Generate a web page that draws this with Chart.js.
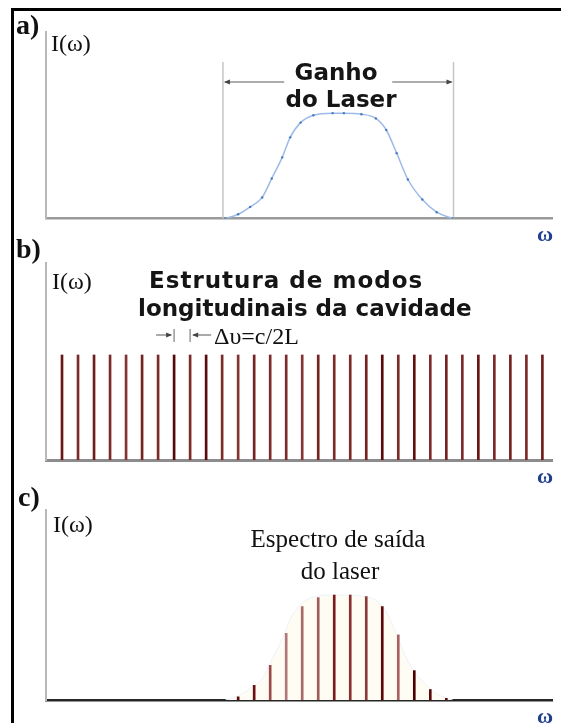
<!DOCTYPE html>
<html>
<head>
<meta charset="utf-8">
<script src="https://cdn.jsdelivr.net/npm/chart.js@4.4.1/dist/chart.umd.min.js"></script>
<style>
  body { margin: 0; background: #fff; }
  #page { position: relative; width: 561px; height: 723px; overflow: hidden; background: #fff; }
  #frame { position: absolute; left: 11px; top: 8px; right: 0; bottom: 0;
           border-left: 3px solid #000; border-top: 3px solid #000; }
  canvas { position: absolute; left: 0; }
  .t { position: absolute; white-space: nowrap; line-height: 1; z-index: 2; color: #111; }
  .tag { font: bold 28px "Liberation Serif", serif; }
  .ax { font: 24px "Liberation Serif", serif; }
  .w { font: bold 22px "Liberation Serif", serif; color: #1f3f8f; transform: translateX(-50%); }
  .sans { font: bold 23px "DejaVu Sans", sans-serif; color: #151515; }
  .serif { font: 25px "Liberation Serif", serif; }
  .mid { transform: translateX(-50%); }
</style>
</head>
<body>
<div id="page">
  <div id="frame"></div>
  <canvas id="gainChart" width="561" height="240" style="top:0"></canvas>
  <canvas id="modeChart" width="561" height="240" style="top:240px"></canvas>
  <canvas id="outChart" width="561" height="243" style="top:480px"></canvas>

  <div class="t tag" style="left:16px;top:9px">a)</div>
  <div class="t ax" style="left:51px;top:30px">I(ω)</div>
  <div class="t sans mid" style="left:336px;top:59px">Ganho</div>
  <div class="t sans mid" style="left:341px;top:86px">do Laser</div>
  <div class="t w" style="left:545px;top:221px">ω</div>

  <div class="t tag" style="left:16px;top:233px">b)</div>
  <div class="t ax" style="left:52px;top:268px">I(ω)</div>
  <div class="t sans" style="left:149px;top:267px;letter-spacing:1px">Estrutura de modos</div>
  <div class="t sans" style="left:138px;top:295px">longitudinais da cavidade</div>
  <div class="t serif" style="left:214px;top:323px;font-size:24px">Δυ=c/2L</div>
  <div class="t w" style="left:545px;top:463px">ω</div>

  <div class="t tag" style="left:18px;top:481px">c)</div>
  <div class="t ax" style="left:53px;top:511px">I(ω)</div>
  <div class="t serif mid" style="left:338px;top:525px">Espectro de saída</div>
  <div class="t serif mid" style="left:340px;top:557px">do laser</div>
  <div class="t w" style="left:545px;top:703px">ω</div>
</div>

<script>
// ω axis is measured in cavity-mode numbers, intensity in units of the gain peak

// gain profile of the active medium
const gainW = [10.2, 11.0, 11.75, 12.5, 13.1, 13.75, 14.25, 14.9, 15.7, 16.9, 17.6, 18.7, 19.6, 20.25, 20.9, 21.6, 22.5, 23.4, 24.4];
const gainI = [0, 0.04, 0.11, 0.2, 0.38, 0.58, 0.77, 0.91, 0.98, 1.0, 1.0, 0.99, 0.95, 0.84, 0.62, 0.37, 0.18, 0.06, 0];
const gainEdges = [10.05, 24.45];

// longitudinal modes of the cavity
const modeN = [0, 1, 2, 3, 4, 5, 6, 7, 8, 9, 10, 11, 12, 13, 14, 15, 16, 17, 18, 19, 20, 21, 22, 23, 24, 25, 26, 27, 28, 29, 30];
const modeI = [1, 1, 1, 1, 1, 1, 1, 1, 1, 1, 1, 1, 1, 1, 1, 1, 1, 1, 1, 1, 1, 1, 1, 1, 1, 1, 1, 1, 1, 1, 1];
const modeColors = ['#6a1616', '#7c2a2a', '#6f1c1c', '#7c2a2a', '#843232', '#742222', '#7c2a2a', '#560808',
  '#7c2a2a', '#5a0a0a', '#7c2a2a', '#843232', '#742222', '#7c2a2a', '#7c2a2a', '#843232', '#742222',
  '#7c2a2a', '#7c2a2a', '#742222', '#5a0a0a', '#7c2a2a', '#600e0e', '#7c2a2a', '#742222', '#7c2a2a',
  '#6a1616', '#7c2a2a', '#742222', '#7c2a2a', '#6f1c1c'];
const spacingMarks = [7, 8];

// modes that survive inside the gain window
const outN = [11, 12, 13, 14, 15, 16, 17, 18, 19, 20, 21, 22, 23, 24];
const outI = [0.03, 0.14, 0.33, 0.635, 0.89, 0.975, 1.0, 1.0, 0.985, 0.89, 0.62, 0.28, 0.10, 0.016];
const outColors = ['#5a0a0a', '#6b1010', '#9a4a4a', '#b07878', '#a86868', '#a05a5a', '#7a1a1a',
  '#8a3030', '#8b3a3a', '#5a0808', '#a86060', '#4a0000', '#5a0a0a', '#5a0a0a'];

const W_MIN = -1, W_MAX = 30.6;

function pts(xs, ys) {
  return xs.map((x, i) => ({ x: x, y: ys[i] }));
}

function axes(yMax, baseColor, baseWidth) {
  return {
    x: {
      type: 'linear', min: W_MIN, max: W_MAX,
      offset: false,
      grid: { display: false, drawTicks: false, offset: false },
      ticks: { display: false },
      border: { display: true, color: baseColor, width: baseWidth }
    },
    y: {
      min: 0, max: yMax,
      grid: { display: false, drawTicks: false },
      ticks: { display: false },
      border: { display: true, color: '#b8b8b8', width: 2 }
    }
  };
}

function baseOptions(yMax, pad, baseColor, baseWidth) {
  return {
    responsive: false,
    animation: false,
    events: [],
    layout: { padding: pad, autoPadding: false },
    plugins: { legend: { display: false }, tooltip: { enabled: false } },
    scales: axes(yMax, baseColor, baseWidth)
  };
}

function arrowHead(ctx, x, y, dir) {
  ctx.beginPath();
  ctx.moveTo(x, y);
  ctx.lineTo(x - dir * 6, y - 2.5);
  ctx.lineTo(x - dir * 6, y + 2.5);
  ctx.closePath();
  ctx.fill();
}

// width of the gain band, with the arrows broken around the caption
const gainBracket = {
  id: 'gainBracket',
  beforeDatasetsDraw(chart) {
    const { ctx, chartArea, scales: { x } } = chart;
    const x1 = x.getPixelForValue(gainEdges[0]);
    const x2 = x.getPixelForValue(gainEdges[1]);
    const yArrow = 82;
    const mid = (x1 + x2) / 2;
    ctx.save();
    ctx.strokeStyle = '#c6c6c6';
    ctx.lineWidth = 1.5;
    ctx.beginPath();
    ctx.moveTo(x1, 62); ctx.lineTo(x1, chartArea.bottom);
    ctx.moveTo(x2, 62); ctx.lineTo(x2, chartArea.bottom);
    ctx.stroke();
    ctx.strokeStyle = '#5a5a5a';
    ctx.fillStyle = '#444';
    ctx.lineWidth = 1;
    ctx.beginPath();
    ctx.moveTo(x1 + 2, yArrow); ctx.lineTo(mid - 54, yArrow);
    ctx.moveTo(mid + 54, yArrow); ctx.lineTo(x2 - 2, yArrow);
    ctx.stroke();
    arrowHead(ctx, x1 + 1, yArrow, -1);
    arrowHead(ctx, x2 - 1, yArrow, 1);
    ctx.restore();
  }
};

// free spectral range marker between two neighbouring modes
const spacingMarker = {
  id: 'spacingMarker',
  afterDatasetsDraw(chart) {
    const { ctx, scales: { x } } = chart;
    const xa = x.getPixelForValue(spacingMarks[0]);
    const xb = x.getPixelForValue(spacingMarks[1]);
    const y = 95;
    ctx.save();
    ctx.strokeStyle = '#9a9a9a';
    ctx.lineWidth = 1.5;
    ctx.beginPath();
    ctx.moveTo(xa, y - 6); ctx.lineTo(xa, y + 7);
    ctx.moveTo(xb, y - 6); ctx.lineTo(xb, y + 7);
    ctx.stroke();
    ctx.strokeStyle = '#555';
    ctx.fillStyle = '#444';
    ctx.lineWidth = 1;
    ctx.beginPath();
    ctx.moveTo(xa - 18, y); ctx.lineTo(xa - 3, y);
    ctx.moveTo(xb + 3, y); ctx.lineTo(xb + 21, y);
    ctx.stroke();
    arrowHead(ctx, xa - 2, y, 1);
    arrowHead(ctx, xb + 2, y, -1);
    ctx.restore();
  }
};

new Chart(document.getElementById('gainChart'), {
  type: 'line',
  data: {
    datasets: [{
      data: pts(gainW, gainI),
      borderColor: '#9dbbe6',
      borderWidth: 1.5,
      pointRadius: 1.2,
      pointBorderWidth: 0,
      pointBackgroundColor: '#4a78c4',
      cubicInterpolationMode: 'monotone',
      fill: false
    }]
  },
  options: baseOptions(1.77, { left: 46, right: 9, top: 32, bottom: 21.5 }, '#9a9a9a', 2.5),
  plugins: [gainBracket]
});

new Chart(document.getElementById('modeChart'), {
  type: 'bar',
  data: {
    datasets: [{
      data: pts(modeN, modeI),
      backgroundColor: modeColors,
      barThickness: 2,
      grouped: false
    }]
  },
  options: baseOptions(1.876, { left: 46, right: 9, top: 23, bottom: 20 }, '#8c8c8c', 3),
  plugins: [spacingMarker]
});

new Chart(document.getElementById('outChart'), {
  type: 'bar',
  data: {
    datasets: [{
      data: pts(outN, outI),
      backgroundColor: outColors,
      barThickness: 2,
      grouped: false,
      order: 1
    }, {
      type: 'line',
      data: pts(gainW, gainI),
      borderColor: 'rgba(232,242,250,0.9)',
      borderWidth: 1,
      backgroundColor: 'rgba(255,252,244,1)',
      pointRadius: 0,
      cubicInterpolationMode: 'monotone',
      fill: 'origin',
      order: 2
    }]
  },
  options: baseOptions(1.81, { left: 46, right: 9, top: 30, bottom: 23 }, '#262626', 2.5)
});
</script>
</body>
</html>
